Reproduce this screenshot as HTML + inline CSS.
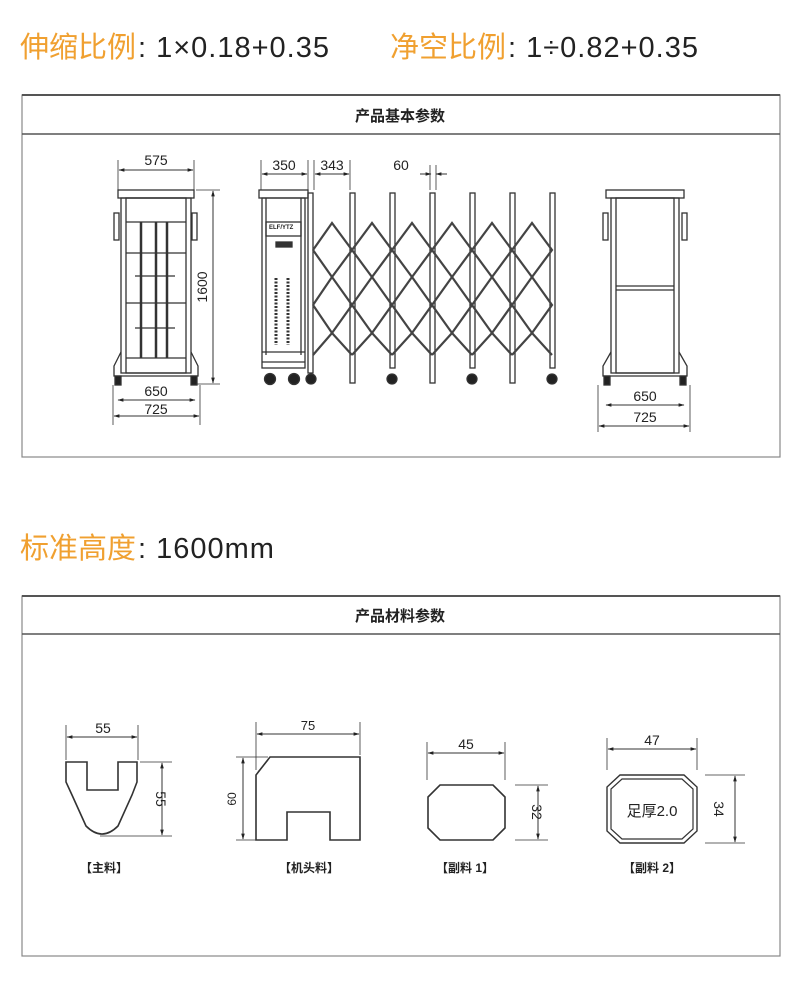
<!DOCTYPE html>
<html><head><meta charset="utf-8"><style>
html,body{margin:0;padding:0;background:#fff;}
svg{display:block;}
.o{fill:#f0a030;font-family:"Liberation Sans","Noto Sans CJK SC",sans-serif;}
.k{fill:#222;font-family:"Liberation Sans","Noto Sans CJK SC",sans-serif;}
</style></head><body>
<svg width="800" height="986" viewBox="0 0 800 986" xmlns="http://www.w3.org/2000/svg">
<defs>
<marker id="a" viewBox="0 0 10 10" refX="9" refY="5" markerWidth="6" markerHeight="6" orient="auto-start-reverse"><path d="M0,2 L10,5 L0,8z" fill="#222"/></marker>
</defs>
<!-- top texts -->
<text x="20" y="57" font-size="29" class="o">伸缩比例</text><text x="138" y="57" font-size="29" letter-spacing="1" class="k">: 1×0.18+0.35</text>
<text x="390" y="57" font-size="29" class="o">净空比例</text><text x="508" y="57" font-size="29" letter-spacing="1" class="k">: 1÷0.82+0.35</text>
<text x="20" y="558" font-size="29" class="o">标准高度</text><text x="138" y="558" font-size="29" letter-spacing="1" class="k">: 1600mm</text>

<!-- box 1 -->
<rect x="22" y="95" width="758" height="362" fill="none" stroke="#888" stroke-width="1.2"/>
<line x1="22" y1="95" x2="780" y2="95" stroke="#555" stroke-width="2"/>
<line x1="22" y1="134" x2="780" y2="134" stroke="#555" stroke-width="1.5"/>
<text x="400" y="121" font-size="15" text-anchor="middle" class="k" font-weight="bold">产品基本参数</text>

<!-- box 2 -->
<rect x="22" y="596" width="758" height="360" fill="none" stroke="#888" stroke-width="1.2"/>
<line x1="22" y1="596" x2="780" y2="596" stroke="#555" stroke-width="2"/>
<line x1="22" y1="634" x2="780" y2="634" stroke="#555" stroke-width="1.5"/>
<text x="400" y="621" font-size="15" text-anchor="middle" class="k" font-weight="bold">产品材料参数</text>

<g stroke="#333" fill="none" stroke-width="1.3">
<!-- left view -->
<rect x="118" y="190" width="76" height="8"/>
<rect x="121" y="198" width="70" height="175"/>
<rect x="126" y="198" width="60" height="175"/>
<rect x="114" y="213" width="5" height="27"/><rect x="192" y="213" width="5" height="27"/>
<g stroke-width="2.5"><line x1="141" y1="222" x2="141" y2="358"/><line x1="156" y1="222" x2="156" y2="358"/><line x1="167" y1="222" x2="167" y2="358"/></g>
<line x1="126" y1="222" x2="186" y2="222"/><line x1="126" y1="253" x2="186" y2="253"/><line x1="135" y1="276" x2="175" y2="276"/><line x1="126" y1="303" x2="186" y2="303"/><line x1="135" y1="328" x2="175" y2="328"/><line x1="126" y1="358" x2="186" y2="358"/>
<path d="M121,352 L114,366 L114,376 L198,376 L198,366 L191,352"/>
<rect x="115" y="376" width="6" height="9" fill="#222"/><rect x="191" y="376" width="6" height="9" fill="#222"/>
<line x1="118" y1="160" x2="118" y2="190" stroke-width="0.8"/><line x1="194" y1="160" x2="194" y2="190" stroke-width="0.8"/>
<line x1="119" y1="170" x2="193" y2="170" marker-start="url(#a)" marker-end="url(#a)" stroke-width="1"/>
<line x1="196" y1="190" x2="220" y2="190" stroke-width="0.8"/><line x1="196" y1="384" x2="220" y2="384" stroke-width="0.8"/>
<line x1="213" y1="191" x2="213" y2="383" marker-start="url(#a)" marker-end="url(#a)" stroke-width="1"/>
<line x1="113" y1="385" x2="113" y2="425" stroke-width="0.8"/><line x1="200" y1="385" x2="200" y2="425" stroke-width="0.8"/>
<line x1="118" y1="400" x2="195" y2="400" marker-start="url(#a)" marker-end="url(#a)" stroke-width="1"/>
<line x1="114" y1="416" x2="199" y2="416" marker-start="url(#a)" marker-end="url(#a)" stroke-width="1"/>

<!-- machine head -->
<rect x="259" y="190" width="49" height="8"/>
<rect x="262" y="198" width="43" height="170"/>
<line x1="266" y1="198" x2="266" y2="355"/><line x1="301" y1="198" x2="301" y2="355"/>
<rect x="266" y="222" width="35" height="14"/>
<rect x="276" y="242" width="16" height="5" fill="#333"/>
<g stroke-width="3" stroke-dasharray="2 1.5"><line x1="276" y1="278" x2="276" y2="345"/><line x1="288" y1="278" x2="288" y2="345"/></g>
<line x1="262" y1="352" x2="305" y2="352"/><line x1="262" y1="362" x2="305" y2="362"/>
<circle cx="270" cy="379" r="5.5" fill="#222"/><circle cx="294" cy="379" r="5.5" fill="#222"/><circle cx="311" cy="379" r="5" fill="#222"/>
<!-- poles -->
<g>
<rect x="308" y="193" width="5" height="180"/>
<rect x="350" y="193" width="5" height="190"/>
<rect x="390" y="193" width="5" height="175"/>
<rect x="430" y="193" width="5" height="190"/>
<rect x="470" y="193" width="5" height="175"/>
<rect x="510" y="193" width="5" height="190"/>
<rect x="550" y="193" width="5" height="175"/>
</g>
<circle cx="392" cy="379" r="5" fill="#222"/><circle cx="472" cy="379" r="5" fill="#222"/><circle cx="552" cy="379" r="5" fill="#222"/>
<!-- lattice -->
<g stroke-width="2.2" stroke="#444">
<path d="M313,250 L332,223 L352,250 L332,277 L313,250 M313,305 L332,277 L352,305 L332,333 L313,305 M313,355 L332,333 L352,355"/>
<path d="M352,250 L372,223 L392,250 L372,277 L352,250 M352,305 L372,277 L392,305 L372,333 L352,305 M352,355 L372,333 L392,355"/>
<path d="M392,250 L412,223 L432,250 L412,277 L392,250 M392,305 L412,277 L432,305 L412,333 L392,305 M392,355 L412,333 L432,355"/>
<path d="M432,250 L452,223 L472,250 L452,277 L432,250 M432,305 L452,277 L472,305 L452,333 L432,305 M432,355 L452,333 L472,355"/>
<path d="M472,250 L492,223 L512,250 L492,277 L472,250 M472,305 L492,277 L512,305 L492,333 L472,305 M472,355 L492,333 L512,355"/>
<path d="M512,250 L532,223 L552,250 L532,277 L512,250 M512,305 L532,277 L552,305 L532,333 L512,305 M512,355 L532,333 L552,355"/>
</g>
<!-- head dims -->
<line x1="261" y1="160" x2="261" y2="190" stroke-width="0.8"/><line x1="308" y1="160" x2="308" y2="190" stroke-width="0.8"/><line x1="314" y1="160" x2="314" y2="190" stroke-width="0.8"/><line x1="350" y1="160" x2="350" y2="190" stroke-width="0.8"/>
<line x1="262" y1="174" x2="307" y2="174" marker-start="url(#a)" marker-end="url(#a)" stroke-width="1"/>
<line x1="315" y1="174" x2="349" y2="174" marker-start="url(#a)" marker-end="url(#a)" stroke-width="1"/>
<line x1="420" y1="174" x2="431" y2="174" marker-end="url(#a)" stroke-width="1"/><line x1="447" y1="174" x2="436" y2="174" marker-end="url(#a)" stroke-width="1"/>
<line x1="430" y1="165" x2="430" y2="190" stroke-width="0.8"/><line x1="436" y1="165" x2="436" y2="190" stroke-width="0.8"/>

<!-- right view -->
<rect x="606" y="190" width="78" height="8"/>
<rect x="611" y="198" width="68" height="175"/>
<rect x="616" y="198" width="58" height="175"/>
<line x1="616" y1="286" x2="674" y2="286"/><line x1="616" y1="290" x2="674" y2="290"/>
<rect x="603" y="213" width="5" height="27"/><rect x="682" y="213" width="5" height="27"/>
<path d="M611,352 L603,366 L603,376 L687,376 L687,366 L679,352"/>
<rect x="604" y="376" width="6" height="9" fill="#222"/><rect x="680" y="376" width="6" height="9" fill="#222"/>
<line x1="598" y1="385" x2="598" y2="432" stroke-width="0.8"/><line x1="690" y1="385" x2="690" y2="432" stroke-width="0.8"/>
<line x1="606" y1="405" x2="684" y2="405" marker-start="url(#a)" marker-end="url(#a)" stroke-width="1"/>
<line x1="599" y1="426" x2="689" y2="426" marker-start="url(#a)" marker-end="url(#a)" stroke-width="1"/>

<!-- materials -->
<path d="M66,762 L87,762 L87,790 L118,790 L118,762 L137,762 L137,782 L132,795 L118,826 Q102,842 86,826 L72,795 L66,782 Z" stroke-width="1.6"/>
<line x1="66" y1="725" x2="66" y2="760" stroke-width="0.8"/><line x1="138" y1="725" x2="138" y2="760" stroke-width="0.8"/>
<line x1="67" y1="737" x2="137" y2="737" marker-start="url(#a)" marker-end="url(#a)" stroke-width="1"/>
<line x1="140" y1="762" x2="172" y2="762" stroke-width="0.8"/><line x1="100" y1="836" x2="172" y2="836" stroke-width="0.8"/>
<line x1="162" y1="763" x2="162" y2="835" marker-start="url(#a)" marker-end="url(#a)" stroke-width="1"/>

<path d="M256,840 L256,775 L270,757 L360,757 L360,840 L330,840 L330,812 L287,812 L287,840 Z" stroke-width="1.6"/>
<path d="M258,772 L268,760" stroke-width="1"/>
<line x1="256" y1="722" x2="256" y2="770" stroke-width="0.8"/><line x1="360" y1="722" x2="360" y2="755" stroke-width="0.8"/>
<line x1="257" y1="734" x2="359" y2="734" marker-start="url(#a)" marker-end="url(#a)" stroke-width="1"/>
<line x1="236" y1="757" x2="268" y2="757" stroke-width="0.8"/><line x1="236" y1="840" x2="256" y2="840" stroke-width="0.8"/>
<line x1="243" y1="758" x2="243" y2="839" marker-start="url(#a)" marker-end="url(#a)" stroke-width="1"/>

<path d="M440,785 L493,785 L505,797 L505,828 L493,840 L440,840 L428,828 L428,797 Z" stroke-width="1.6"/>
<line x1="427" y1="742" x2="427" y2="780" stroke-width="0.8"/><line x1="505" y1="742" x2="505" y2="780" stroke-width="0.8"/>
<line x1="428" y1="753" x2="504" y2="753" marker-start="url(#a)" marker-end="url(#a)" stroke-width="1"/>
<line x1="515" y1="785" x2="548" y2="785" stroke-width="0.8"/><line x1="515" y1="840" x2="548" y2="840" stroke-width="0.8"/>
<line x1="538" y1="786" x2="538" y2="839" marker-start="url(#a)" marker-end="url(#a)" stroke-width="1"/>

<path d="M620,775 L684,775 L697,787 L697,831 L684,843 L620,843 L607,831 L607,787 Z" stroke-width="1.4"/>
<path d="M622,779 L682,779 L693,789 L693,829 L682,839 L622,839 L611,829 L611,789 Z" stroke-width="1.2"/>
<line x1="607" y1="738" x2="607" y2="770" stroke-width="0.8"/><line x1="697" y1="738" x2="697" y2="770" stroke-width="0.8"/>
<line x1="608" y1="749" x2="696" y2="749" marker-start="url(#a)" marker-end="url(#a)" stroke-width="1"/>
<line x1="705" y1="775" x2="745" y2="775" stroke-width="0.8"/><line x1="705" y1="843" x2="745" y2="843" stroke-width="0.8"/>
<line x1="735" y1="776" x2="735" y2="842" marker-start="url(#a)" marker-end="url(#a)" stroke-width="1"/>
</g>

<!-- dim labels -->
<g class="k" font-size="14">
<text x="156" y="165" text-anchor="middle">575</text>
<text x="156" y="396" text-anchor="middle">650</text>
<text x="156" y="414" text-anchor="middle">725</text>
<text transform="translate(207,287) rotate(-90)" text-anchor="middle">1600</text>
<text x="284" y="170" text-anchor="middle">350</text>
<text x="332" y="170" text-anchor="middle">343</text>
<text x="401" y="170" text-anchor="middle">60</text>
<text x="645" y="401" text-anchor="middle">650</text>
<text x="645" y="422" text-anchor="middle">725</text>
<text x="103" y="733" text-anchor="middle">55</text>
<text transform="translate(156,799) rotate(90)" text-anchor="middle">55</text>
<text x="308" y="730" text-anchor="middle" font-size="13">75</text>
<text transform="translate(236,799) rotate(-90)" text-anchor="middle" font-size="12">60</text>
<text x="466" y="749" text-anchor="middle">45</text>
<text transform="translate(532,812) rotate(90)" text-anchor="middle">32</text>
<text x="652" y="745" text-anchor="middle">47</text>
<text transform="translate(714,809) rotate(90)" text-anchor="middle">34</text>
<text x="652" y="816" text-anchor="middle" font-size="15">足厚2.0</text>
</g>
<text x="269" y="229" font-size="6" class="k" font-weight="bold">ELF/YTZ</text>
<g class="k" font-size="12" font-weight="bold" text-anchor="middle">
<text x="104" y="872">【主料】</text>
<text x="309" y="872">【机头料】</text>
<text x="465" y="872">【副料 1】</text>
<text x="652" y="872">【副料 2】</text>
</g>
</svg>
</body></html>
